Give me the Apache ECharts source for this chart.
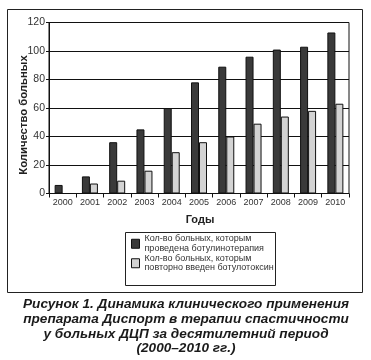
<!DOCTYPE html>
<html><head><meta charset="utf-8">
<script src="https://cdn.jsdelivr.net/npm/echarts@6/dist/echarts.min.js"></script>
<style>html,body{margin:0;padding:0;background:#fff}#c{width:371px;height:360px}</style>
</head><body><div id="c"></div>
<script>
var years = ['2000','2001','2002','2003','2004','2005','2006','2007','2008','2009','2010'];
var treated = [6, 12, 36, 45, 60, 78, 89, 96, 101, 103, 113];
var repeated = [0, 7, 9, 16, 29, 36, 40, 49, 54, 58, 63];
var yTicks = [0, 20, 40, 60, 80, 100, 120];
var seriesNames = ['Кол-во больных, которым\nпроведена ботулинотерапия', 'Кол-во больных, которым\nповторно введен ботулотоксин'];
var caption = 'Рисунок 1. Динамика клинического применения\nпрепарата Диспорт в терапии спастичности\nу больных ДЦП за десятилетний период\n(2000–2010 гг.)';

var chart = echarts.init(document.getElementById('c'));
var font = '"Liberation Sans", Arial, sans-serif';
var legendText = {fontFamily: font, fontSize: 9, color: '#333', lineHeight: 9.5, padding: [9.5, 0, 0, 0]};
chart.setOption({
  animation: false,
  textStyle: {fontFamily: font},
  graphic: [
    {type: 'rect', shape: {x: 7.5, y: 9.5, width: 355, height: 283}, style: {fill: 'none', stroke: '#222', lineWidth: 1}, z: 0},
    {type: 'rect', shape: {x: 125.5, y: 232.5, width: 150, height: 53}, style: {fill: 'none', stroke: '#222', lineWidth: 1}, z: 0},
    {type: 'text', x: 186, y: 297, style: {text: caption, align: 'center', verticalAlign: 'top',
      fontFamily: font, fontSize: 13.6, fontWeight: 'bold', fontStyle: 'italic', fill: '#1a1a1a', lineHeight: 14.7}}
  ],
  legend: [
    {data: [seriesNames[0]], orient: 'vertical', left: 131, top: 229.5, padding: 0, itemWidth: 8, itemHeight: 9, itemGap: 3,
     icon: 'rect', textStyle: legendText, itemStyle: {borderColor: '#111', borderWidth: 1}, selectedMode: false},
    {data: [seriesNames[1]], orient: 'vertical', left: 131, top: 249, padding: 0, itemWidth: 8, itemHeight: 9, itemGap: 3,
     icon: 'rect', textStyle: legendText, itemStyle: {borderColor: '#111', borderWidth: 1}, selectedMode: false}
  ],
  grid: {left: 49, right: 22, top: 22.5, bottom: 166.5, show: true, borderColor: '#111', borderWidth: 1},
  xAxis: {
    type: 'category', data: years, boundaryGap: true,
    name: 'Годы', nameLocation: 'middle', nameGap: 21, nameMoveOverlap: false,
    nameTextStyle: {fontFamily: font, fontSize: 11, fontWeight: 'bold', color: '#222', padding: [0, 0, 0, 2]},
    axisLine: {lineStyle: {color: '#111', width: 1}},
    axisTick: {show: true, length: 4, lineStyle: {color: '#111'}},
    axisLabel: {fontFamily: font, fontSize: 9, color: '#333', margin: 5, interval: 0}
  },
  yAxis: {
    type: 'value', min: 0, max: 120, interval: 20,
    name: 'Количество больных', nameLocation: 'middle', nameGap: 20, nameMoveOverlap: false,
    nameTextStyle: {fontFamily: font, fontSize: 11.3, fontWeight: 'bold', color: '#222', padding: [0, 14, 0, 0]},
    axisLine: {show: true, lineStyle: {color: '#111', width: 1}},
    axisTick: {show: true, length: 3, lineStyle: {color: '#111'}},
    axisLabel: {fontFamily: font, fontSize: 10.5, color: '#333', margin: 4,
      formatter: function (v) { return yTicks.indexOf(v) >= 0 ? String(v) : ''; }},
    splitLine: {show: true, lineStyle: {color: '#111', width: 1}}
  },
  series: [
    {name: seriesNames[0], type: 'bar', data: treated, barWidth: 8, barGap: '0%',
     itemStyle: {color: '#3a3a3a', borderColor: '#111', borderWidth: 1}},
    {name: seriesNames[1], type: 'bar', data: repeated, barWidth: 8, barGap: '0%',
     itemStyle: {color: '#d3d3d3', borderColor: '#111', borderWidth: 1}}
  ]
});
</script></body></html>
